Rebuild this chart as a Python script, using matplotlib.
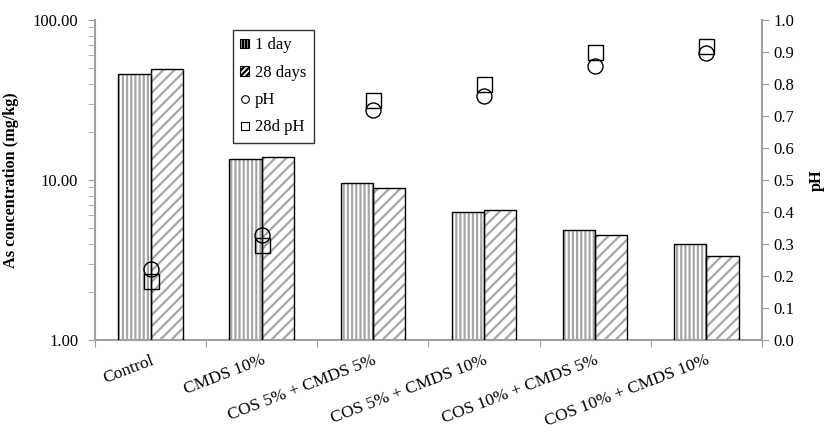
import matplotlib
matplotlib.use("Agg")
import matplotlib.pyplot as plt
import matplotlib.patches as mpatches
import matplotlib.transforms as mtransforms
from matplotlib.lines import Line2D
from matplotlib.ticker import LogLocator, FixedLocator, NullFormatter, FuncFormatter
import numpy as np

plt.rcParams['font.family'] = ['Liberation Serif', 'DejaVu Serif']
plt.rcParams['font.size'] = 12
plt.rcParams['hatch.linewidth'] = 1.6

categories = ["Control", "CMDS 10%", "COS 5% + CMDS 5%", "COS 5% + CMDS 10%",
              "COS 10% + CMDS 5%", "COS 10% + CMDS 10%"]
as_1day = [46.0, 13.5, 9.6, 6.3, 4.9, 4.0]
as_28day = [49.4, 13.9, 8.95, 6.5, 4.5, 3.37]
ph_1day = [0.222, 0.327, 0.720, 0.763, 0.857, 0.898]
ph_28day = [0.183, 0.298, 0.749, 0.799, 0.901, 0.919]

axcol = "#a0a0a0"
hcol = "#a6a6a6"

fig = plt.figure(figsize=(8.4, 4.33), dpi=100)
ax = fig.add_axes([0.113, 0.2148, 0.794, 0.739])
x = np.arange(len(categories))
w = 0.29

# hatch layer (grey) then black outline on top
ax.bar(x - w / 2, as_1day, w, color="white", edgecolor=hcol, hatch="||||", linewidth=0, zorder=2)
ax.bar(x + w / 2, as_28day, w, color="white", edgecolor=hcol, hatch="///", linewidth=0, zorder=2)
ax.bar(x - w / 2, as_1day, w, fill=False, edgecolor="black", linewidth=1.0, zorder=3)
ax.bar(x + w / 2, as_28day, w, fill=False, edgecolor="black", linewidth=1.0, zorder=3)

ax.set_yscale("log")
ax.set_ylim(1, 100)
ax.set_xlim(-0.5, len(categories) - 0.5)
ax.yaxis.set_major_locator(FixedLocator([1, 10, 100]))
ax.yaxis.set_major_formatter(FuncFormatter(lambda v, p: "%.2f" % v))
ax.yaxis.set_minor_locator(LogLocator(base=10, subs=np.arange(2, 10)))
ax.yaxis.set_minor_formatter(NullFormatter())
ax.set_ylabel("As concentration (mg/kg)", fontweight="bold", fontsize=11.7, labelpad=10)

ax.set_xticks(np.arange(-0.5, len(categories), 1.0))
ax.set_xticklabels([])
ax.set_xticks(x, minor=True)
ax.set_xticklabels(categories, minor=True, rotation=21, ha="right", va="top",
                   rotation_mode="anchor", fontsize=12.5)
shift = mtransforms.ScaledTranslation(5 / 100, 0, fig.dpi_scale_trans)
for lab in ax.get_xticklabels(minor=True):
    lab.set_transform(lab.get_transform() + shift)
ax.tick_params(axis="x", which="minor", length=0, pad=9)
ax.tick_params(axis="x", which="major", length=5, color=axcol, direction="out")
ax.tick_params(axis="y", which="both", length=5, color=axcol, direction="out", labelsize=12, pad=7)

for s in ["top", "right"]:
    ax.spines[s].set_visible(False)
for s in ["left", "bottom"]:
    ax.spines[s].set_color(axcol)
    ax.spines[s].set_linewidth(1.5)

ax2 = ax.twinx()
ax2.set_ylim(0, 1.0)
ax2.set_yticks(np.arange(0, 1.01, 0.1))
ax2.yaxis.set_major_formatter(FuncFormatter(lambda v, p: "%.1f" % v))
ax2.tick_params(axis="y", length=5, color=axcol, direction="out", labelsize=12)
ax2.set_ylabel("pH", fontweight="bold", fontsize=11.7, labelpad=10)
for s in ["top", "left", "bottom"]:
    ax2.spines[s].set_visible(False)
ax2.spines["right"].set_color(axcol)
ax2.spines["right"].set_linewidth(1.5)

ax2.plot(x, ph_1day, linestyle="none", marker="o", markersize=10.8, markerfacecolor="none",
         markeredgecolor="black", markeredgewidth=1.0, zorder=4)
ax2.plot(x, ph_28day, linestyle="none", marker="s", markersize=10.8, markerfacecolor="none",
         markeredgecolor="black", markeredgewidth=1.0, zorder=4)

handles = [
    mpatches.Patch(facecolor="white", edgecolor="black", hatch="||||||", linewidth=0.8),
    mpatches.Patch(facecolor="white", edgecolor="black", hatch="//////", linewidth=0.8),
    Line2D([], [], linestyle="none", marker="o", markersize=5.5, markerfacecolor="none",
           markeredgecolor="black", markeredgewidth=0.8),
    Line2D([], [], linestyle="none", marker="s", markersize=5.5, markerfacecolor="none",
           markeredgecolor="black", markeredgewidth=0.8),
]
leg = ax2.legend(handles, ["1 day", "28 days", "pH", "28d pH"],
                 loc="upper left", bbox_to_anchor=(0.207, 0.969), borderaxespad=0,
                 fontsize=12, frameon=True, fancybox=False,
                 handlelength=0.5, handleheight=0.5, handletextpad=0.35,
                 labelspacing=0.68, borderpad=0.45)
leg.get_frame().set_edgecolor("black")
leg.get_frame().set_linewidth(1.0)

fig.savefig("out.png", dpi=100)
